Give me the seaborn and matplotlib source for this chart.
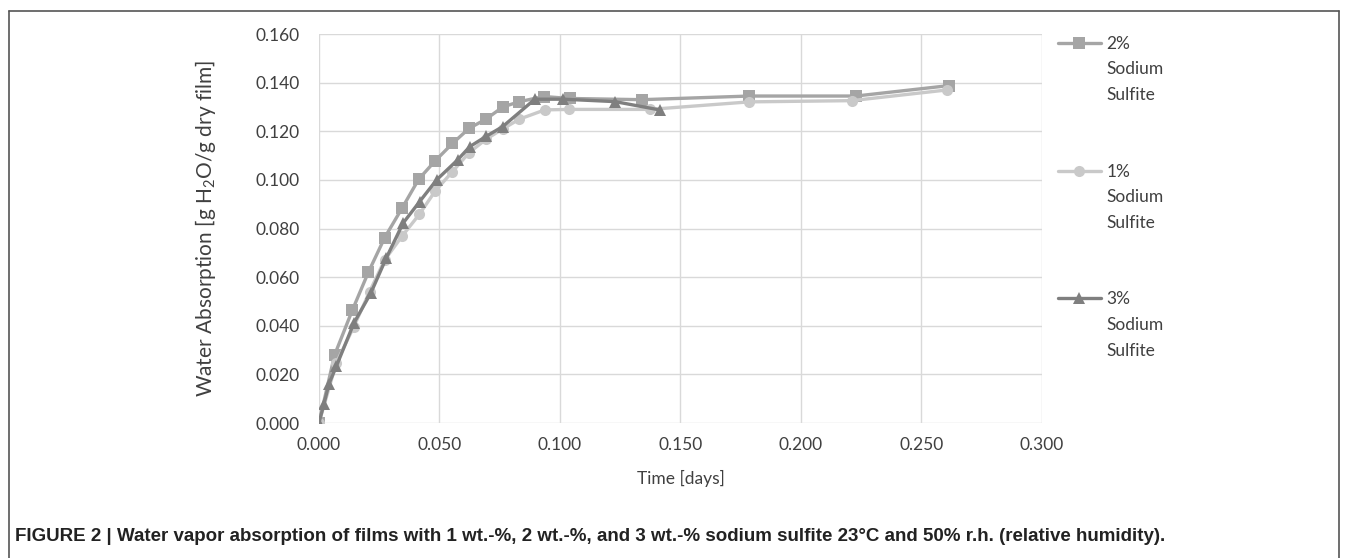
import pandas as pd
import matplotlib
matplotlib.use("Agg")
import matplotlib.pyplot as plt
import seaborn as sns
from matplotlib.lines import Line2D

# values (time in days, absorption in g H2O / g dry film)
t_2pct = [0.000, 0.0065, 0.0139, 0.0205, 0.0273, 0.0345, 0.0414, 0.0482, 0.0554,
          0.0623, 0.0693, 0.0763, 0.0832, 0.0933, 0.1040, 0.1340, 0.1786, 0.2228, 0.2615]
w_2pct = [0.000, 0.028, 0.0465, 0.062, 0.0763, 0.0884, 0.1003, 0.1078, 0.1150,
          0.1212, 0.1250, 0.1300, 0.1322, 0.1343, 0.1335, 0.1330, 0.1345, 0.1345, 0.1388]

t_1pct = [0.000, 0.0072, 0.0145, 0.0210, 0.0273, 0.0346, 0.0417, 0.0483, 0.0554,
          0.0623, 0.0693, 0.0763, 0.0832, 0.0937, 0.1039, 0.1373, 0.1786, 0.2210, 0.2606]
w_1pct = [0.000, 0.0247, 0.0397, 0.0540, 0.0671, 0.0770, 0.0859, 0.0955, 0.1034,
          0.1112, 0.1167, 0.1210, 0.1250, 0.1288, 0.1290, 0.1290, 0.1321, 0.1326, 0.1370]

t_3pct = [0.000, 0.0021, 0.0042, 0.0072, 0.0145, 0.0215, 0.0280, 0.0349, 0.0418,
          0.0488, 0.0575, 0.0626, 0.0695, 0.0762, 0.0896, 0.1014, 0.1229, 0.1413]
w_3pct = [0.000, 0.0079, 0.0162, 0.0233, 0.0411, 0.0534, 0.0680, 0.0822, 0.0911,
          0.1000, 0.1082, 0.1137, 0.1180, 0.1219, 0.1332, 0.1332, 0.1322, 0.1288]

series_names = ["2% Sodium Sulfite", "1% Sodium Sulfite", "3% Sodium Sulfite"]
x_ticks = [0.000, 0.050, 0.100, 0.150, 0.200, 0.250, 0.300]
y_ticks = [0.000, 0.020, 0.040, 0.060, 0.080, 0.100, 0.120, 0.140, 0.160]

df = pd.concat([
    pd.DataFrame({"t": t_2pct, "w": w_2pct, "series": series_names[0]}),
    pd.DataFrame({"t": t_1pct, "w": w_1pct, "series": series_names[1]}),
    pd.DataFrame({"t": t_3pct, "w": w_3pct, "series": series_names[2]}),
])

sns.set_theme(style="white")
plt.rcParams["font.family"] = ["Lato", "DejaVu Sans"]
plt.rcParams["mathtext.default"] = "regular"

palette = {series_names[0]: "#a5a5a5", series_names[1]: "#c9c9c9", series_names[2]: "#7f7f7f"}
markers = {series_names[0]: "s", series_names[1]: "o", series_names[2]: "^"}

fig = plt.figure(figsize=(13.48, 5.58), dpi=100)
ax = fig.add_axes([0.2366, 0.2419, 0.5364, 0.6971])

sns.lineplot(data=df, x="t", y="w", hue="series", style="series", palette=palette,
             markers=markers, dashes=False, sort=False, estimator=None,
             linewidth=2.4, markersize=8, markeredgewidth=0, ax=ax, legend=False)

ax.set_xlim(0, 0.3)
ax.set_ylim(0, 0.16)
ax.set_xticks(x_ticks)
ax.set_yticks(y_ticks)
ax.set_xticklabels([f"{v:.3f}" for v in x_ticks])
ax.set_yticklabels([f"{v:.3f}" for v in y_ticks])
ax.tick_params(axis="both", labelsize=12.5, colors="#404040", length=0)
ax.tick_params(axis="y", pad=14)
ax.tick_params(axis="x", pad=10)
ax.grid(True, color="#d9d9d9", linewidth=1)
for s in ax.spines.values():
    s.set_visible(False)
ax.set_xlabel("Time [days]", fontsize=12.5, color="#404040", labelpad=12)
ax.set_ylabel("Water Absorption [g H$_2$O/g dry film]", fontsize=15, color="#404040", labelpad=27)

# legend: handle on the first line, like the original (blank rows for the wrapped text)
blank = Line2D([], [], linestyle="none")
handles, labels = [], []
for name in series_names:
    pct, rest = name.split(" ", 1)
    h = Line2D([], [], color=palette[name], marker=markers[name], markersize=8,
               markeredgewidth=0, linewidth=2.4)
    handles += [h, blank, blank, blank, blank]
    labels += [pct, "Sodium", "Sulfite", "", ""]
handles, labels = handles[:-2], labels[:-2]
leg = ax.legend(handles, labels, loc="upper left", bbox_to_anchor=(1.012, 1.013),
                frameon=False, fontsize=12.5, handlelength=2.5, handletextpad=0.3,
                labelspacing=0.55, borderaxespad=0)
for txt in leg.get_texts():
    txt.set_color("#404040")

# page frame and caption
fig.add_artist(Line2D([0.007, 0.007], [0.0, 0.980], color="#555555", lw=1.2))
fig.add_artist(Line2D([0.007, 0.993], [0.980, 0.980], color="#555555", lw=1.2))
fig.add_artist(Line2D([0.993, 0.993], [0.0, 0.980], color="#555555", lw=1.2))

cap1 = fig.text(0.011, 0.03, "FIGURE 2 | ", fontsize=13.5, fontweight="bold", color="#222222",
                family=["Liberation Sans", "DejaVu Sans"])
ax.annotate("Water vapor absorption of films with 1 wt.-%, 2 wt.-%, and 3 wt.-% sodium sulfite "
            "23°C and 50% r.h. (relative humidity).",
            xy=(1, 0), xycoords=cap1, va="bottom", ha="left", fontsize=13.5, fontweight="bold",
            color="#222222", family=["Liberation Sans", "DejaVu Sans"], annotation_clip=False)

plt.savefig("out.png", dpi=100)
plt.close()
